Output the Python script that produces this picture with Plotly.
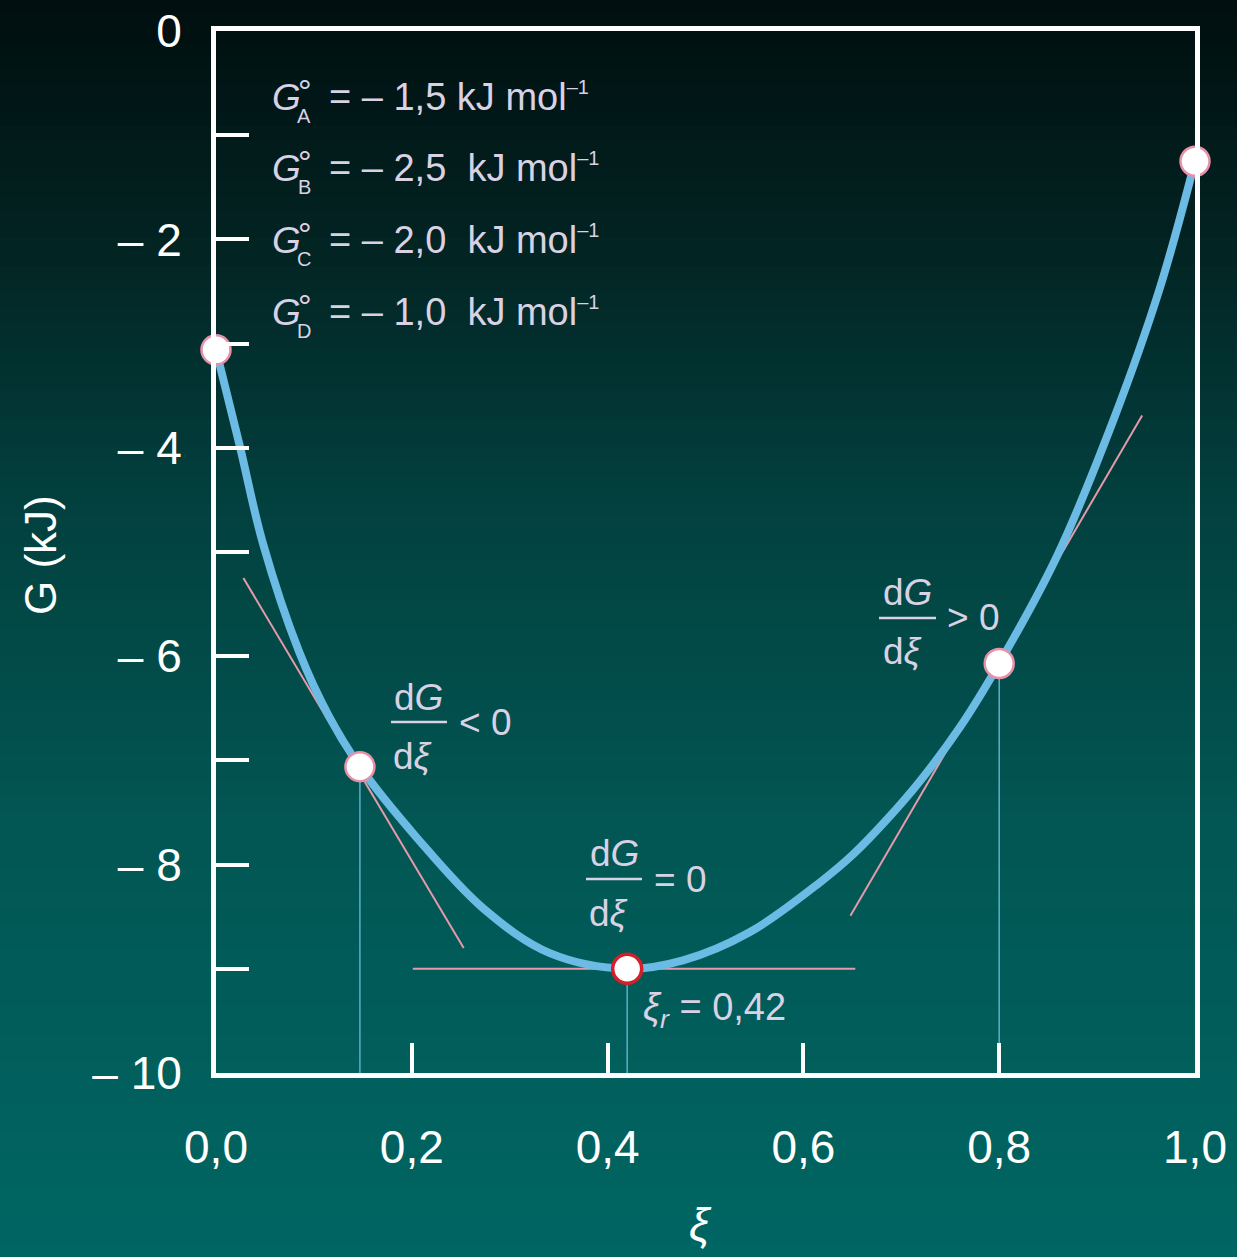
import plotly.graph_objects as go

# ---------------- data ----------------
xi_curve = [0.000, 0.024, 0.048, 0.085, 0.115, 0.147, 0.205, 0.273, 0.341, 0.420,
            0.477, 0.545, 0.617, 0.651, 0.685, 0.719, 0.760, 0.800, 0.859, 0.916,
            0.964, 1.000]
G_curve = [-3.06, -3.97, -4.92, -5.96, -6.57, -7.06, -7.74, -8.42, -8.85, -9.00,
           -8.92, -8.65, -8.17, -7.90, -7.57, -7.20, -6.68, -6.07, -5.04, -3.75,
           -2.47, -1.25]

xi_points = [0.0, 0.147, 0.80, 1.0]
G_points = [-3.06, -7.06, -6.07, -1.25]
xi_eq = [0.42]
G_eq = [-9.00]

drop_xi = [0.147, 0.42, 0.80]
drop_G = [-7.06, -9.00, -6.07]

tan_left_xi = [0.028, 0.253]
tan_left_G = [-5.25, -8.80]
tan_min_xi = [0.201, 0.653]
tan_min_G = [-9.00, -9.00]
tan_right_xi = [0.648, 0.946]
tan_right_G = [-8.49, -3.69]

y_tickvals = [0, -1, -2, -3, -4, -5, -6, -7, -8, -9, -10]
y_ticktext = ["0", "", "– 2", "", "– 4", "", "– 6", "", "– 8", "", "– 10"]
x_tickvals = [0.0, 0.2, 0.4, 0.6, 0.8, 1.0]
x_ticktext = ["0,0", "0,2", "0,4", "0,6", "0,8", "1,0"]

species = ["A", "B", "C", "D"]
species_values = ["= – 1,5 kJ mol", "= – 2,5\u00a0 kJ mol",
                  "= – 2,0\u00a0 kJ mol", "= – 1,0\u00a0 kJ mol"]
unit_exp = "–1"

# ---------------- layout geometry ----------------
W, H = 1237, 1257
L, R, T, B = 216, 42, 31, 184
PW, PH = W - L - R, H - T - B


def px2x(px):
    return (px - L) / PW


def py2y(py):
    return -(py - T) / PH * 10


TEXT = "#d8d2e4"
FONT = "Liberation Sans, Arial, sans-serif"

fig = go.Figure()

# tangents (under curve)
for xs, ys in [(tan_left_xi, tan_left_G), (tan_min_xi, tan_min_G), (tan_right_xi, tan_right_G)]:
    fig.add_trace(go.Scatter(x=xs, y=ys, mode="lines",
                             line=dict(color="#e59aab", width=2),
                             hoverinfo="skip", showlegend=False))

# drop lines
for x0, g0 in zip(drop_xi, drop_G):
    fig.add_trace(go.Scatter(x=[x0, x0], y=[g0, -10], mode="lines",
                             line=dict(color="#5aaed0", width=1.5),
                             hoverinfo="skip", showlegend=False))

# main curve
fig.add_trace(go.Scatter(x=xi_curve, y=G_curve, mode="lines",
                         line=dict(color="#6cbbe4", width=8, shape="spline", smoothing=1.0),
                         cliponaxis=False, hoverinfo="skip", showlegend=False))

# markers
fig.add_trace(go.Scatter(x=xi_points, y=G_points, mode="markers",
                         marker=dict(size=29, color="white", line=dict(color="#e890a8", width=2.5)),
                         cliponaxis=False, hoverinfo="skip", showlegend=False))
fig.add_trace(go.Scatter(x=xi_eq, y=G_eq, mode="markers",
                         marker=dict(size=29, color="white", line=dict(color="#d41e2a", width=3.5)),
                         cliponaxis=False, hoverinfo="skip", showlegend=False))

# ---------------- background gradient ----------------
stops = [(0, (1, 14, 15)), (250, (2, 36, 35)), (500, (2, 64, 62)),
         (800, (2, 85, 82)), (1257, (0, 102, 99))]


def col_at(py):
    for (a, ca), (b, cb) in zip(stops[:-1], stops[1:]):
        if a <= py <= b:
            t = (py - a) / (b - a)
            return "rgb(%d,%d,%d)" % tuple(round(ca[i] + (cb[i] - ca[i]) * t) for i in range(3))
    return "rgb(0,102,99)"


shapes = []
nb = 90
for i in range(nb):
    p0 = H * i / nb - (20 if i == 0 else 0)
    p1 = H * (i + 1) / nb + (20 if i == nb - 1 else 1)
    shapes.append(dict(type="rect", xref="paper", yref="paper", layer="below",
                       x0=-L / PW - 0.05, x1=1 + R / PW + 0.05,
                       y0=(H - B - p1) / PH, y1=(H - B - p0) / PH,
                       fillcolor=col_at((max(p0, 0) + min(p1, H)) / 2), line=dict(width=0)))

# fraction bars
for x0p, x1p, yp in [(391, 447, 722), (586, 642, 879), (879, 936, 618)]:
    shapes.append(dict(type="line", xref="x", yref="y", x0=px2x(x0p), x1=px2x(x1p),
                       y0=py2y(yp), y1=py2y(yp), line=dict(color=TEXT, width=2.5)))

# ---------------- annotations ----------------
ann = []


def txt(text, px, py, size=37, xanchor="center", color=TEXT):
    ann.append(dict(text=text, x=px2x(px), y=py2y(py), xref="x", yref="y",
                    xanchor=xanchor, yanchor="middle", showarrow=False,
                    font=dict(family=FONT, size=size, color=color)))


line_y = [97, 168, 240, 312]
for sp, val, yy in zip(species, species_values, line_y):
    txt("<i>G</i>", 270, yy, xanchor="left")
    txt("°", 305, yy - 6, size=34)
    txt(sp, 304, yy + 19, size=20)
    txt(val + "<sup><span style='font-size:20px'>" + unit_exp + "</span></sup>", 327, yy,
        xanchor="left", size=38)

# fractions
for (gx, gy), (dx, dy), (rx, ry), rel in [((418, 697), (412, 756), (485, 722), "&lt; 0"),
                                          ((614, 853), (608, 913), (680, 879), "= 0"),
                                          ((907, 592), (902, 651), (973, 617), "&gt; 0")]:
    txt("d<i>G</i>", gx, gy)
    txt("d<i>ξ</i>", dx, dy)
    txt(rel, rx, ry)

txt("<i>ξ</i><sub><i>r</i></sub> = 0,42", 641, 1010, xanchor="left", size=38)

# axis titles
ann.append(dict(text="G (kJ)", x=(40 - L) / PW, y=(H - B - 555) / PH, xref="paper", yref="paper",
                textangle=-90, showarrow=False, xanchor="center", yanchor="middle",
                font=dict(family=FONT, size=44, color="white")))
ann.append(dict(text="<i>ξ</i>", x=px2x(700), y=(H - B - 1225) / PH, xref="x", yref="paper",
                showarrow=False, xanchor="center", yanchor="middle",
                font=dict(family=FONT, size=46, color="white")))

fig.update_layout(
    width=W, height=H,
    margin=dict(l=L, r=R, t=T, b=B, autoexpand=False),
    paper_bgcolor="rgb(2,66,64)",
    plot_bgcolor="rgba(0,0,0,0)",
    shapes=shapes,
    annotations=ann,
    showlegend=False,
)

fig.update_xaxes(range=[0, 1], tickvals=x_tickvals, ticktext=x_ticktext,
                 ticks="inside", ticklen=30, tickwidth=4, tickcolor="white",
                 showline=True, linewidth=5, linecolor="white", mirror=True,
                 showgrid=False, zeroline=False, ticklabelstandoff=30, automargin=False,
                 tickfont=dict(family=FONT, size=46, color="white"))
fig.update_yaxes(range=[-10, 0], tickvals=y_tickvals, ticktext=y_ticktext,
                 ticks="inside", ticklen=33, tickwidth=4, tickcolor="white",
                 showline=True, linewidth=5, linecolor="white", mirror=True,
                 showgrid=False, zeroline=False, ticklabelstandoff=20, automargin=False,
                 tickfont=dict(family=FONT, size=46, color="white"))

fig.write_html("out.html")
